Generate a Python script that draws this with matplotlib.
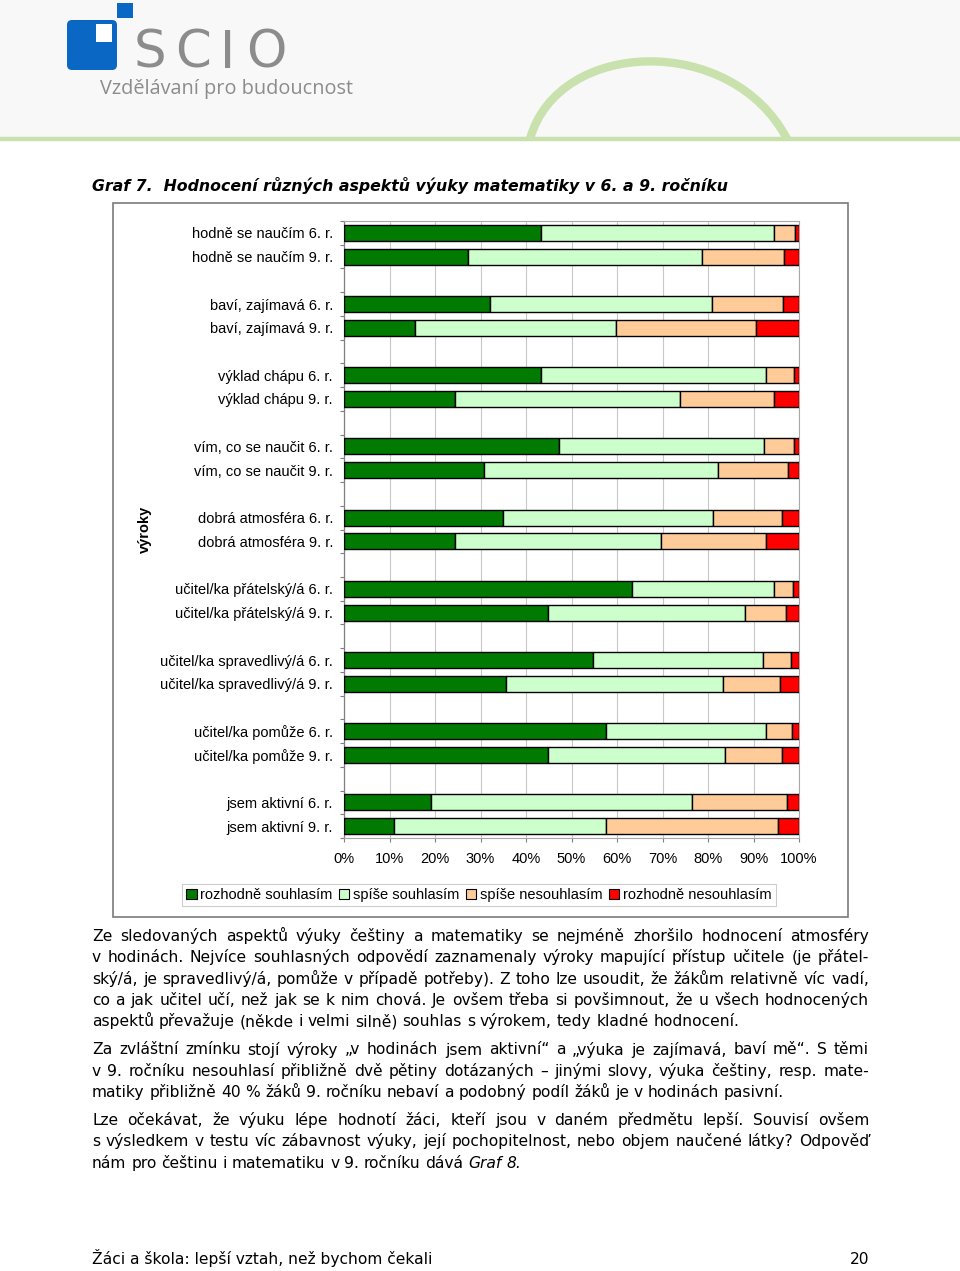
import matplotlib
matplotlib.use("Agg")
import matplotlib.pyplot as plt
from matplotlib.patches import Rectangle, FancyBboxPatch, PathPatch, Patch
from matplotlib.path import Path
import numpy as np

W, H, DPI = 960, 1271, 100

# ---------------- data ----------------
statements = ["hodně se naučím", "baví, zajímavá", "výklad chápu", "vím, co se naučit",
              "dobrá atmosféra", "učitel/ka přátelský/á", "učitel/ka spravedlivý/á",
              "učitel/ka pomůže", "jsem aktivní"]
grades = ["6. r.", "9. r."]
row_labels = [f"{s} {g}" for s in statements for g in grades]

strongly_agree = [43.4, 27.2, 32.1, 15.6, 43.4, 24.3, 47.3, 30.8, 35.0, 24.5,
                  63.4, 44.8, 54.8, 35.7, 57.6, 44.8, 19.1, 10.9]
rather_agree = [51.0, 51.4, 48.7, 44.1, 49.3, 49.5, 44.9, 51.5, 46.2, 45.1,
                31.1, 43.4, 37.2, 47.7, 35.1, 39.0, 57.3, 46.7]
rather_disagree = [4.7, 18.0, 15.6, 30.8, 6.2, 20.6, 6.8, 15.2, 15.1, 23.1,
                   4.2, 8.9, 6.2, 12.4, 5.8, 12.4, 21.0, 37.7]
strongly_disagree = [0.9, 3.4, 3.6, 9.5, 1.1, 5.6, 1.0, 2.5, 3.7, 7.3,
                     1.3, 2.9, 1.8, 4.2, 1.5, 3.8, 2.6, 4.7]

series_names = ["rozhodně souhlasím", "spíše souhlasím", "spíše nesouhlasím", "rozhodně nesouhlasím"]
series_colors = ["#007a00", "#ccffcc", "#ffcc99", "#ff0000"]
x_ticks = [0, 10, 20, 30, 40, 50, 60, 70, 80, 90, 100]
x_tick_labels = ["0%", "10%", "20%", "30%", "40%", "50%", "60%", "70%", "80%", "90%", "100%"]
axis_title = "výroky"

title = "Graf 7.  Hodnocení různých aspektů výuky matematiky v 6. a 9. ročníku"
paragraphs = [
    [[("Ze sledovaných aspektů výuky češtiny a matematiky se nejméně zhoršilo hodnocení atmosféry", "normal")],
     [("v hodinách. Nejvíce souhlasných odpovědí zaznamenaly výroky mapující přístup učitele (je přátel-", "normal")],
     [("ský/á, je spravedlivý/á, pomůže v případě potřeby). Z toho lze usoudit, že žákům relativně víc vadí,", "normal")],
     [("co a jak učitel učí, než jak se k nim chová. Je ovšem třeba si povšimnout, že u všech hodnocených", "normal")],
     [("aspektů převažuje (někde i velmi silně) souhlas s výrokem, tedy kladné hodnocení.", "normal")]],
    [[("Za zvláštní zmínku stojí výroky „v hodinách jsem aktivní“ a „výuka je zajímavá, baví mě“. S těmi", "normal")],
     [("v 9. ročníku nesouhlasí přibližně dvě pětiny dotázaných – jinými slovy, výuka češtiny, resp. mate-", "normal")],
     [("matiky přibližně 40 % žáků 9. ročníku nebaví a podobný podíl žáků je v hodinách pasivní.", "normal")]],
    [[("Lze očekávat, že výuku lépe hodnotí žáci, kteří jsou v daném předmětu lepší. Souvisí ovšem", "normal")],
     [("s výsledkem v testu víc zábavnost výuky, její pochopitelnost, nebo objem naučené látky? Odpověď", "normal")],
     [("nám pro češtinu i matematiku v 9. ročníku dává", "normal"), ("Graf 8.", "italic")]],
]
para_baselines = [[941, 962.3, 983.6, 1004.9, 1026.2],
                  [1054.5, 1075.8, 1097.1],
                  [1125, 1146.3, 1167.6]]
footer_left = "Žáci a škola: lepší vztah, než bychom čekali"
footer_right = "20"

# ---------------- figure ----------------
fig = plt.figure(figsize=(W / DPI, H / DPI), dpi=DPI)
fig.patch.set_facecolor("white")
bg = fig.add_axes([0, 0, 1, 1], zorder=0)
bg.set_xlim(0, W)
bg.set_ylim(H, 0)
bg.axis("off")
renderer = fig.canvas.get_renderer()

def width_of(t):
    return t.get_window_extent(renderer).width

def fit_width(t, target):
    w = width_of(t)
    t.set_fontsize(t.get_fontsize() * target / w)

# header
bg.add_patch(Rectangle((0, 0), W, 138, facecolor="#f8f8f8", edgecolor="none", zorder=0))
bg.plot([0, W], [138.5, 138.5], color="#c9e1ad", lw=3.2, solid_capstyle="butt", zorder=1)
arc = Path([(530, 139), (558, 38), (732, 33), (787, 139)],
           [Path.MOVETO, Path.CURVE4, Path.CURVE4, Path.CURVE4])
bg.add_patch(PathPatch(arc, facecolor="none", edgecolor="#c9e1ad", lw=6.0, zorder=1))

blue = "#0b67c4"
bg.add_patch(FancyBboxPatch((67, 20), 50, 50, boxstyle="round,pad=0,rounding_size=5",
                            facecolor=blue, edgecolor="none", zorder=2))
bg.add_patch(Rectangle((96, 24), 16, 18, facecolor="white", edgecolor="none", zorder=3))
bg.add_patch(Rectangle((117, 3), 16, 15, facecolor=blue, edgecolor="none", zorder=3))
for ch, xc in zip("SCIO", [150, 193.5, 227.5, 266]):
    bg.text(xc, 68, ch, ha="center", va="baseline", fontsize=37, color="#8c8c8c",
            family="DejaVu Sans", fontweight="normal", zorder=3)
tag = bg.text(100, 94, "Vzdělávaní pro budoucnost", ha="left", va="baseline", fontsize=14,
              color="#8c8c8c", family="Open Sans", zorder=3)
fit_width(tag, 253)

# title
tt = bg.text(92, 191, title, ha="left", va="baseline", fontsize=12, fontweight="bold",
             fontstyle="italic", family="DejaVu Sans", color="black")
fit_width(tt, 634)

# chart frame
bg.add_patch(Rectangle((113, 203), 735, 714, facecolor="white", edgecolor="#7a7a7a", lw=1.2, zorder=1))

# ---------------- chart ----------------
ax = fig.add_axes([344 / W, 1 - 838 / H, 455 / W, 617 / H], zorder=2)
ax.set_facecolor("white")
pos = np.array([i + i // 2 for i in range(len(row_labels))])
left = np.zeros(len(row_labels))
handles = []
for vals, col, name in zip([strongly_agree, rather_agree, rather_disagree, strongly_disagree],
                           series_colors, series_names):
    vals = np.array(vals)
    ax.barh(pos, vals, left=left, height=0.675, color=col, edgecolor="black",
            linewidth=1.0, zorder=3)
    left += vals
    handles.append(Patch(facecolor=col, edgecolor="black", linewidth=0.8, label=name))

lab_font = {"family": "Liberation Sans", "size": 10.5}
ax.set_xlim(0, 100)
ax.set_ylim(25.5, -0.5)
ax.set_xticks(x_ticks)
ax.set_xticklabels(x_tick_labels, fontdict=lab_font)
ax.set_yticks(pos)
ax.set_yticklabels(row_labels, fontdict=lab_font)
ax.set_yticks(np.arange(-0.5, 26, 1), minor=True)
ax.tick_params(axis="y", which="major", length=0, pad=8)
ax.tick_params(axis="y", which="minor", length=3, width=0.8, color="#808080", direction="out")
ax.tick_params(axis="x", which="major", length=3, width=0.8, color="#808080", pad=7)
ax.grid(axis="x", color="#c8c8c8", lw=0.8, zorder=0)
ax.set_axisbelow(True)
for s in ["top", "right", "bottom"]:
    ax.spines[s].set_color("#a8a8a8")
    ax.spines[s].set_linewidth(0.8)
ax.spines["left"].set_color("#808080")
ax.spines["left"].set_linewidth(0.9)

bg.text(145, 529, axis_title, rotation=90, ha="center", va="center", fontsize=10.5,
        fontweight="bold", family="Liberation Sans")

leg = fig.legend(handles=handles, loc="center", bbox_to_anchor=(479 / W, 1 - 895 / H), ncol=4,
                 prop={"family": "Liberation Sans", "size": 10.5}, frameon=True, fancybox=False,
                 edgecolor="#c0c0c0", handlelength=0.7, handleheight=0.7, handletextpad=0.25,
                 columnspacing=0.45, borderpad=0.3, borderaxespad=0)
leg.get_frame().set_linewidth(0.8)

# ---------------- body text (justified) ----------------
L, R = 92, 869
body_family = "DejaVu Sans"
base_size = 12.0
all_lines = []
for para, bls in zip(paragraphs, para_baselines):
    for k, (segs, bl) in enumerate(zip(para, bls)):
        words = []
        for text, style in segs:
            for w in text.split(" "):
                words.append(bg.text(0, bl, w, ha="left", va="baseline", fontsize=base_size,
                                     fontstyle=style, family=body_family, color="black"))
        all_lines.append((words, k == len(para) - 1))

probe1 = bg.text(0, -100, "x x", fontsize=base_size, family=body_family)
probe2 = bg.text(0, -100, "xx", fontsize=base_size, family=body_family)
space = width_of(probe1) - width_of(probe2)
max_nat = 0
for words, last in all_lines:
    nat = sum(width_of(w) for w in words) + space * (len(words) - 1)
    max_nat = max(max_nat, nat)
scale = min(1.0, (R - L) / max_nat * 0.985)
size = base_size * scale
for p in (probe1, probe2):
    p.set_fontsize(size)
space = width_of(probe1) - width_of(probe2)
probe1.remove(); probe2.remove()
for words, last in all_lines:
    for w in words:
        w.set_fontsize(size)
    ws = [width_of(w) for w in words]
    gap = space if last or len(words) < 2 else (R - L - sum(ws)) / (len(words) - 1)
    x = L
    for w, wd in zip(words, ws):
        w.set_x(x)
        x += wd + gap

# footer
ft = bg.text(92, 1264, footer_left, ha="left", va="baseline", fontsize=12, family=body_family)
fit_width(ft, 340)
bg.text(869, 1264, footer_right, ha="right", va="baseline", fontsize=ft.get_fontsize(),
        family=body_family)

fig.savefig("out.png", dpi=DPI, facecolor="white")
